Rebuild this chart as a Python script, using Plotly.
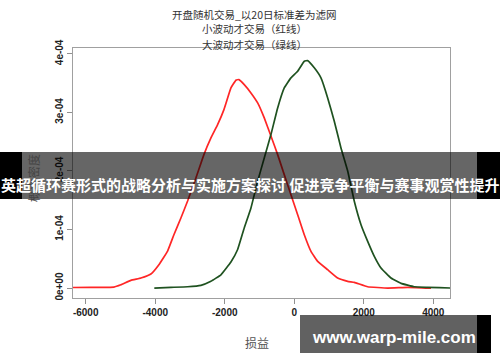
import plotly.graph_objects as go

# Red curve (小波动才交易)
red_x = [-6369, -5851, -5189, -4987, -4700, -4412, -4124, -3894, -3644, -3462, -3261, -3068,
         -2829, -2599, -2397, -2205, -2023, -1822, -1678, -1592, -1439, -1246, -1053, -863,
         -671, -478, -288, -95, 98, 288, 481, 674, 961, 1249, 1537, 1727, 2112, 2688, 3264,
         3839, 3934]
red_y = [0.9e-6, 1.0e-6, 1.7e-6, 5.6e-6, 1.32e-5, 1.71e-5, 2.39e-5, 3.98e-5, 6.32e-5, 9.11e-5,
         1.197e-4, 1.487e-4, 1.880e-4, 2.279e-4, 2.564e-4, 2.791e-4, 3.048e-4, 3.419e-4,
         3.55e-4, 3.561e-4, 3.475e-4, 3.333e-4, 3.162e-4, 2.906e-4, 2.598e-4, 2.279e-4,
         1.937e-4, 1.595e-4, 1.253e-4, 9.11e-5, 6.27e-5, 4.56e-5, 3.13e-5, 1.71e-5, 1.15e-5,
         9.7e-6, 2.2e-6, 0.0, 1.2e-6, 0.0, 0.0]

# Green curve (大波动才交易)
green_x = [-4026, -3549, -3068, -2685, -2397, -2110, -1822, -1629, -1439, -1246, -1053, -863,
           -671, -478, -288, -95, 98, 288, 386, 576, 768, 961, 1151, 1344, 1537, 1727, 1920,
           2112, 2302, 2495, 2783, 3071, 3454, 3839, 4510, 4700]
green_y = [0.0, 1.2e-6, 2.2e-6, 4.6e-6, 1.15e-5, 2.27e-5, 4.44e-5, 6.58e-5, 1.026e-4, 1.368e-4,
           1.824e-4, 2.222e-4, 2.621e-4, 3.077e-4, 3.419e-4, 3.590e-4, 3.704e-4, 3.875e-4,
           3.885e-4, 3.761e-4, 3.590e-4, 3.248e-4, 2.850e-4, 2.393e-4, 2.0e-4, 1.482e-4,
           1.082e-4, 7.98e-5, 5.42e-5, 3.42e-5, 1.71e-5, 8.0e-6, 2.2e-6, 1.2e-6, 0.0, 0.0]

x_ticks = [-6000, -4000, -2000, 0, 2000, 4000]
y_ticks = [0, 1e-4, 2e-4, 3e-4, 4e-4]
y_tick_text = ["0e+00", "1e-04", "2e-04", "3e-04", "4e-04"]

title_lines = ["开盘随机交易_以20日标准差为滤网", "小波动才交易（红线）", "大波动才交易（绿线）"]
x_label = "损益"
y_label = "概率密度"
banner_text = "英超循环赛形式的战略分析与实施方案探讨 促进竞争平衡与赛事观赏性提升"
watermark_text = "www.warp-mile.com"

W, H = 500, 362
L, R, T, B = 73, 450, 48, 298


def px(x):
    return (x - L) / (R - L)


def py(y):
    return (B - y) / (B - T)


fig = go.Figure()
fig.add_trace(go.Scatter(x=red_x, y=red_y, mode="lines",
                         line=dict(color="#ff2626", width=1.7, shape="spline", smoothing=0.3),
                         hoverinfo="skip", showlegend=False))
fig.add_trace(go.Scatter(x=green_x, y=green_y, mode="lines",
                         line=dict(color="#1f5220", width=1.7, shape="spline", smoothing=0.3),
                         hoverinfo="skip", showlegend=False))

axis_common = dict(showgrid=False, zeroline=False, showline=True, mirror=True,
                   linecolor="#a0a0a0", linewidth=1, ticks="outside", ticklen=5,
                   tickcolor="#909090", automargin=False,
                   tickfont=dict(family="Liberation Sans, Arial", size=10, color="#222"))

fig.update_xaxes(range=[-6365, 4480], tickvals=x_ticks,
                 ticktext=["<b>%d</b>" % v for v in x_ticks], **axis_common)
fig.update_yaxes(range=[-1.7e-5, 4.1e-4], tickvals=y_ticks,
                 ticktext=["<b>%s</b>" % t for t in y_tick_text],
                 tickangle=-90, **axis_common)

shapes = [
    # banner band
    dict(type="rect", xref="paper", yref="paper", x0=px(22), x1=px(477), y0=py(199), y1=py(152),
         fillcolor="rgba(0,0,0,0.6)", line=dict(width=0), layer="above"),
    dict(type="rect", xref="paper", yref="paper", x0=px(0), x1=px(22), y0=py(199), y1=py(152),
         fillcolor="black", line=dict(width=0), layer="above"),
    dict(type="rect", xref="paper", yref="paper", x0=px(477), x1=px(500), y0=py(199), y1=py(152),
         fillcolor="black", line=dict(width=0), layer="above"),
    # watermark box
    dict(type="rect", xref="paper", yref="paper", x0=px(300), x1=px(477), y0=py(353), y1=py(315),
         fillcolor="rgba(0,0,0,0.62)", line=dict(width=0), layer="above"),
    dict(type="rect", xref="paper", yref="paper", x0=px(477), x1=px(491), y0=py(353), y1=py(315),
         fillcolor="black", line=dict(width=0), layer="above"),
]

cjk = "Noto Sans CJK SC"
annotations = []
for line, yc in zip(title_lines, [14, 29, 44]):
    annotations.append(dict(text=line, xref="paper", yref="paper", x=px(254), y=py(yc),
                            showarrow=False, xanchor="center", yanchor="middle",
                            font=dict(family=cjk, size=10.5, color="#333")))
annotations += [
    dict(text=x_label, xref="paper", yref="paper", x=px(257), y=py(342),
         showarrow=False, xanchor="center", yanchor="middle",
         font=dict(family=cjk, size=12, color="#555")),
    dict(text=y_label, xref="paper", yref="paper", x=px(33), y=py(178),
         showarrow=False, xanchor="center", yanchor="middle", textangle=-90,
         font=dict(family=cjk, size=12, color="#444")),
    dict(text="<b>" + banner_text + "</b>", xref="paper", yref="paper",
         x=px(250), y=py(184), showarrow=False, xanchor="center", yanchor="middle",
         font=dict(family=cjk, size=15, color="white")),
    dict(text="<b>" + watermark_text + "</b>", xref="paper", yref="paper",
         x=px(394), y=py(337), showarrow=False, xanchor="center", yanchor="middle",
         font=dict(family="Liberation Sans, Arial", size=17, color="white")),
]

fig.update_layout(width=W, height=H, margin=dict(l=L, r=W - R, t=T, b=H - B),
                  plot_bgcolor="white", paper_bgcolor="white",
                  shapes=shapes, annotations=annotations)

fig.write_html("out.html", config={"displayModeBar": False},
               post_script="document.body.style.margin='0';")
